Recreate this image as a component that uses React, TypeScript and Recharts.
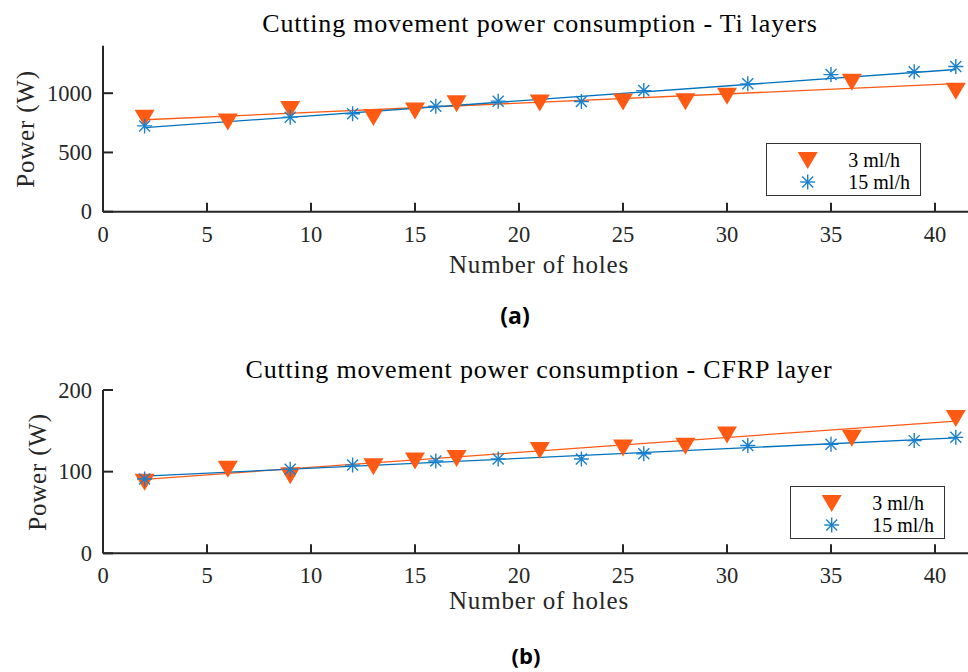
import React from 'react';
import { ComposedChart, Line, Scatter, XAxis, YAxis } from 'recharts';

// Number of holes at which each feed rate was measured
const holes3 = [2, 6, 9, 13, 15, 17, 21, 25, 28, 30, 36, 41];
const holes15 = [2, 9, 12, 16, 19, 23, 26, 31, 35, 39, 41];
const fitX = [2, 41];

// Ti layers (W)
const tiPower3 = [788, 758, 863, 795, 849, 910, 917, 925, 928, 975, 1093, 1017];
const tiPower15 = [724, 798, 827, 890, 933, 930, 1022, 1079, 1157, 1182, 1225];
const tiFit3 = [776, 1080];
const tiFit15 = [709, 1200];

// CFRP layer (W)
const cfrpPower3 = [87, 103, 95, 106, 113, 116, 126, 129, 131, 145, 141, 165];
const cfrpPower15 = [91, 103, 108, 113, 115.5, 115.5, 122, 132, 133.5, 138, 142];
const cfrpFit3 = [90.6, 162];
const cfrpFit15 = [94.6, 141.4];

const xTicks = [0, 5, 10, 15, 20, 25, 30, 35, 40];
const tiTicks = [0, 500, 1000];
const cfrpTicks = [0, 100, 200];
const seriesNames = ['3 ml/h', '15 ml/h'];

const ORANGE = '#FF5A14';
const BLUE = '#0072BD';
const STAR = '#1A80CC';
const INK = '#262626';
const FONT = '"Liberation Serif", "Times New Roman", serif';

const pts = (xs: number[], ys: number[]) => xs.map((x, i) => ({ x, y: ys[i] }));

function DownTri({ cx, cy }: { cx?: number; cy?: number }) {
  if (cx == null || cy == null) return null;
  const w = 10, h = 8.5;
  return <path d={`M${cx - w},${cy - h} L${cx + w},${cy - h} L${cx},${cy + h} Z`} fill={ORANGE} />;
}

function Star({ cx, cy }: { cx?: number; cy?: number }) {
  if (cx == null || cy == null) return null;
  const r = 7.5, d = 5.5;
  return (
    <g stroke={STAR} strokeWidth={1.4}>
      <line x1={cx - r} y1={cy} x2={cx + r} y2={cy} />
      <line x1={cx} y1={cy - r} x2={cx} y2={cy + r} />
      <line x1={cx - d} y1={cy - d} x2={cx + d} y2={cy + d} />
      <line x1={cx - d} y1={cy + d} x2={cx + d} y2={cy - d} />
    </g>
  );
}

const PLOT_LEFT = 103;

function Panel({
  top, plotTop, plotBottom, yMax, yTicks, s3, s15, f3, f15,
}: {
  top: number; plotTop: number; plotBottom: number; yMax: number; yTicks: number[];
  s3: number[]; s15: number[]; f3: number[]; f15: number[];
}) {
  const H = 300;
  const XTick = (p: any) => (
    <g>
      <line x1={p.x} y1={plotBottom} x2={p.x} y2={plotBottom - 9} stroke={INK} strokeWidth={2} />
      <text x={p.x} y={plotBottom + 30} textAnchor="middle" fill={INK} fontSize={22.5} fontFamily={FONT}>
        {p.payload.value}
      </text>
    </g>
  );
  const YTick = (p: any) => (
    <g>
      <line x1={PLOT_LEFT} y1={p.y} x2={PLOT_LEFT + 10} y2={p.y} stroke={INK} strokeWidth={2} />
      <text x={PLOT_LEFT - 11} y={p.y + 7.5} textAnchor="end" fill={INK} fontSize={22.5} fontFamily={FONT}>
        {p.payload.value}
      </text>
    </g>
  );
  return (
    <div style={{ position: 'absolute', left: 0, top }}>
      <ComposedChart
        width={990}
        height={H}
        margin={{ top: plotTop, right: 990 - (PLOT_LEFT + 42 * 20.8), bottom: H - plotBottom - 30, left: PLOT_LEFT - 60 }}
      >
        <XAxis
          type="number"
          dataKey="x"
          domain={[0, 42]}
          ticks={xTicks}
          allowDataOverflow
          height={30}
          axisLine={{ stroke: INK, strokeWidth: 2 }}
          tickLine={false}
          tick={<XTick />}
        />
        <YAxis
          type="number"
          dataKey="y"
          domain={[0, yMax]}
          ticks={yTicks}
          allowDataOverflow
          width={60}
          axisLine={{ stroke: INK, strokeWidth: 2 }}
          tickLine={false}
          tick={<YTick />}
        />
        <Line data={pts(fitX, f3)} dataKey="y" stroke={ORANGE} strokeWidth={1.3} dot={false} isAnimationActive={false} />
        <Line data={pts(fitX, f15)} dataKey="y" stroke={BLUE} strokeWidth={1.3} dot={false} isAnimationActive={false} />
        <Scatter data={pts(holes3, s3)} dataKey="y" shape={(p: any) => <DownTri cx={p.cx} cy={p.cy} />} isAnimationActive={false} />
        <Scatter data={pts(holes15, s15)} dataKey="y" shape={(p: any) => <Star cx={p.cx} cy={p.cy} />} isAnimationActive={false} />
      </ComposedChart>
    </div>
  );
}

function LegendBox({ left, top }: { left: number; top: number }) {
  return (
    <svg width={156} height={54} style={{ position: 'absolute', left, top }}>
      <rect x={0.5} y={0.5} width={154} height={52} fill="#fff" stroke="#333" strokeWidth={1} />
      <DownTri cx={41.7} cy={17.4} />
      <Star cx={41.7} cy={39} />
      <text x={82.3} y={23.5} fontSize={20} fontFamily={FONT} fill="#000">{seriesNames[0]}</text>
      <text x={82.3} y={45.5} fontSize={20} fontFamily={FONT} fill="#000">{seriesNames[1]}</text>
    </svg>
  );
}

export default function App() {
  return (
    <div style={{ position: 'absolute', left: 0, top: 0, width: 968, height: 672, overflow: 'hidden', background: '#fff' }}>
      <Panel top={0} plotTop={45.8} plotBottom={211.7} yMax={1400} yTicks={tiTicks}
        s3={tiPower3} s15={tiPower15} f3={tiFit3} f15={tiFit15} />
      <Panel top={340} plotTop={50} plotBottom={213.3} yMax={200} yTicks={cfrpTicks}
        s3={cfrpPower3} s15={cfrpPower15} f3={cfrpFit3} f15={cfrpFit15} />
      <LegendBox left={766} top={143} />
      <LegendBox left={790} top={486} />
      <svg width={968} height={672} style={{ position: 'absolute', left: 0, top: 0, pointerEvents: 'none' }} fontFamily={FONT}>
        <text x={540} y={32} textAnchor="middle" fontSize={26} letterSpacing={0.8} fill="#000">Cutting movement power consumption - Ti layers</text>
        <text x={539} y={378} textAnchor="middle" fontSize={26} letterSpacing={0.8} fill="#000">Cutting movement power consumption - CFRP layer</text>
        <text x={539} y={272.7} textAnchor="middle" fontSize={25} letterSpacing={0.8} fill={INK}>Number of holes</text>
        <text x={539} y={609} textAnchor="middle" fontSize={25} letterSpacing={0.8} fill={INK}>Number of holes</text>
        <text transform="translate(34,129) rotate(-90)" textAnchor="middle" fontSize={25} letterSpacing={0.8} fill={INK}>Power (W)</text>
        <text transform="translate(46,472) rotate(-90)" textAnchor="middle" fontSize={25} letterSpacing={0.8} fill={INK}>Power (W)</text>
        <text x={515} y={324} textAnchor="middle" fontSize={23} fontWeight="bold" fontFamily='"Open Sans", sans-serif' fill="#000">(a)</text>
        <text x={526} y={664} textAnchor="middle" fontSize={22} fontWeight="bold" fontFamily='"Open Sans", sans-serif' fill="#000">(b)</text>
      </svg>
    </div>
  );
}
